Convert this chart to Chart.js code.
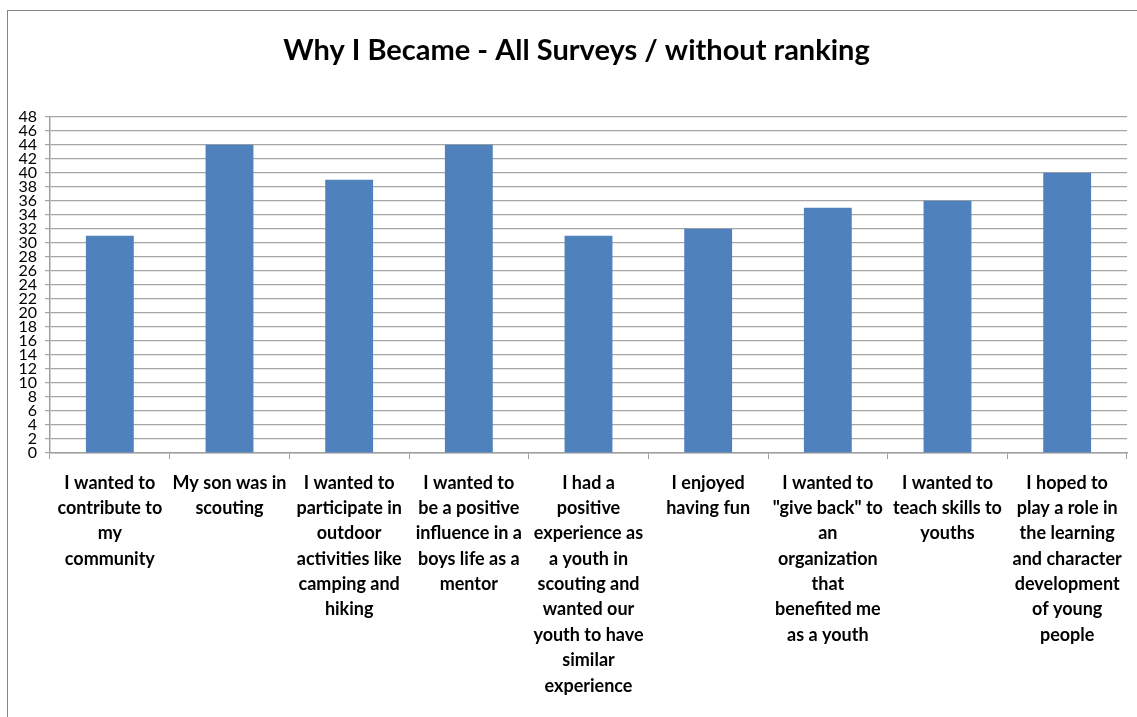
<!DOCTYPE html>
<html>
<head>
<meta charset="utf-8">
<title>Why I Became - All Surveys</title>
<script src="https://cdn.jsdelivr.net/npm/chart.js@4.4.1/dist/chart.umd.min.js"></script>
<style>
    html, body { margin: 0; padding: 0; background: #fff; overflow: hidden; }
    #wrap { position: relative; width: 1137px; height: 717px; }
    #frame {
        position: absolute; left: 7px; top: 10px; right: -5px; bottom: -5px;
        border-left: 1px solid #868686; border-top: 1px solid #868686;
    }
    #surveyChart { position: absolute; left: 0; top: 0; }
</style>
</head>
<body>
<div id="wrap">
    <div id="frame"></div>
    <canvas id="surveyChart" width="1137" height="717"></canvas>
</div>
<script>
// Survey answers, one label per category (pre-wrapped lines)
const reasons = [
    ['I wanted to', 'contribute to', 'my', 'community'],
    ['My son was in', 'scouting'],
    ['I wanted to', 'participate in', 'outdoor', 'activities like', 'camping and', 'hiking'],
    ['I wanted to', 'be a positive', 'influence in a', 'boys life as a', 'mentor'],
    ['I had a', 'positive', 'experience as', 'a youth in', 'scouting and', 'wanted our', 'youth to have', 'similar', 'experience'],
    ['I enjoyed', 'having fun'],
    ['I wanted to', '"give back" to', 'an', 'organization', 'that', 'benefited me', 'as a youth'],
    ['I wanted to', 'teach skills to', 'youths'],
    ['I hoped to', 'play a role in', 'the learning', 'and character', 'development', 'of young', 'people']
];
const responses = [31, 44, 39, 44, 31, 32, 35, 36, 40];

const yMin = 0;
const yMax = 48;
const yStep = 2;

document.addEventListener('DOMContentLoaded', function() {
    const canvas = document.getElementById('surveyChart');
    const ctx = canvas.getContext('2d');

    new Chart(ctx, {
        type: 'bar',
        data: {
            labels: reasons,
            datasets: [{
                label: 'Responses',
                data: responses,
                backgroundColor: '#4F81BD',
                borderWidth: 0,
                categoryPercentage: 1.0,
                barPercentage: 0.4
            }]
        },
        options: {
            responsive: false,
            animation: false,
            layout: {
                padding: { left: 16, right: 0, top: 0, bottom: 0 }
            },
            plugins: {
                legend: { display: false },
                tooltip: { enabled: false },
                title: {
                    display: true,
                    text: 'Why I Became - All Surveys / without ranking',
                    color: '#000',
                    font: { family: 'Lato', size: 29, weight: 'bold' },
                    padding: { top: 33, bottom: 49 }
                }
            },
            scales: {
                x: {
                    grid: {
                        offset: true,
                        drawOnChartArea: false,
                        drawTicks: true,
                        tickLength: 6,
                        color: '#a0a0a0'
                    },
                    border: { color: '#a0a0a0', width: 1.5 },
                    ticks: {
                        autoSkip: false,
                        maxRotation: 0,
                        padding: 11,
                        color: '#000',
                        font: { family: 'Lato', size: 18, weight: 'bold', lineHeight: 1.41 }
                    },
                    afterFit: function(scale) { scale.height = 264; }
                },
                y: {
                    min: yMin,
                    max: yMax,
                    grid: {
                        color: '#a6a6a6',
                        lineWidth: 1.2,
                        tickLength: 5
                    },
                    border: { color: '#a0a0a0', width: 1.5 },
                    ticks: {
                        stepSize: yStep,
                        autoSkip: false,
                        padding: 8,
                        color: '#000',
                        font: { family: 'Lato', size: 16 }
                    },
                    afterFit: function(scale) { scale.width = 34; }
                },
                // empty right-hand gutter so the plot stops short of the frame
                gutter: {
                    type: 'linear',
                    position: 'right',
                    grid: { display: false },
                    border: { display: false },
                    ticks: { display: false },
                    afterFit: function(scale) { scale.width = 10; }
                }
            }
        }
    });
});
</script>
</body>
</html>
